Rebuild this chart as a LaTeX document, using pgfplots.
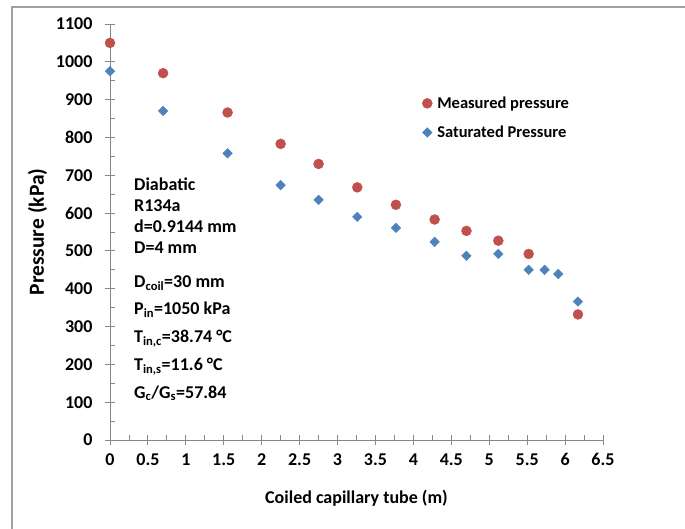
\documentclass[border=0pt]{standalone}
\usepackage{fontspec}
\setmainfont{Carlito}
\usepackage{pgfplots}
\pgfplotsset{compat=1.18}
\definecolor{redm}{HTML}{C0504D}
\definecolor{bluem}{HTML}{4F81BD}
\definecolor{axgray}{HTML}{888888}
\newcommand{\cf}{\bfseries\fontsize{18bp}{21bp}\selectfont}
\newcommand{\lf}{\bfseries\fontsize{16.5bp}{19bp}\selectfont}
\newcommand{\yf}{\bfseries\fontsize{21.5bp}{24bp}\selectfont}
\begin{document}
\begin{tikzpicture}
\useasboundingbox (0,0) rectangle (685bp,529bp);
\draw[color=axgray!80, line width=1.5bp] (12bp,0) -- (12bp,522bp) -- (685bp,522bp);
\begin{axis}[
  at={(110bp,89bp)}, anchor=south west,
  scale only axis, width=493bp, height=416bp,
  xmin=0, xmax=6.5, ymin=0, ymax=1100,
  axis x line=bottom, axis y line=left,
  axis line style={-, color=axgray, line width=0.9bp},
  xtick={0,0.5,...,6.5}, ytick={0,100,...,1100},
  xticklabels={0,0.5,1,1.5,2,2.5,3,3.5,4,4.5,5,5.5,6,6.5},
  minor x tick num=1, minor y tick num=1,
  tick align=center,
  major tick length=10bp, minor tick length=4.5bp,
  tick style={color=axgray, line width=0.9bp},
  minor x tick style={yshift=2.25bp},
  minor y tick style={xshift=2.25bp},
  /pgf/number format/assume math mode=true,
  /pgf/number format/1000 sep={},
  ticklabel style={font=\cf},
  xticklabel style={yshift=-5bp},
  yticklabel style={xshift=-9bp},
  xlabel={Coiled capillary tube (m)},
  ylabel={Pressure (kPa)},
  xlabel style={font=\cf, yshift=-17bp},
  ylabel style={font=\yf, yshift=2bp},
  legend style={at={(0.627,0.835)}, anchor=north west, draw=none, fill=none,
     font=\lf, row sep=12bp, cells={anchor=west},
     /tikz/every odd column/.append style={column sep=3bp}},
  legend image code/.code={\draw[#1] plot coordinates {(0.05cm,0cm)};},
  clip=false,
]
\addplot[only marks, mark=*, mark size=5bp, color=redm, mark options={draw=redm, fill=redm}] coordinates {
(0,1050) (0.70,970) (1.55,866) (2.25,783) (2.75,730) (3.26,668) (3.77,622) (4.28,583) (4.70,553) (5.12,527) (5.52,492) (6.17,332)
};
\addlegendentry{Measured pressure}
\addplot[only marks, mark=square*, mark size=3.4bp, color=bluem, mark options={rotate=45, draw=bluem, fill=bluem}] coordinates {
(0,975) (0.70,870) (1.55,758) (2.25,674) (2.75,635) (3.26,590) (3.77,561) (4.28,524) (4.70,487) (5.12,492) (5.52,450) (5.73,450) (5.91,439) (6.17,366)
};
\addlegendentry{Saturated Pressure}
\end{axis}
\begin{scope}[every node/.style={anchor=base west, inner sep=0pt, font=\cf}]
\node at (134bp,338bp) {Diabatic};
\node at (134bp,317.3bp) {R134a};
\node at (134bp,296.7bp) {d=0.9144 mm};
\node at (134bp,275.7bp) {D=4 mm};
\node at (134bp,241.3bp) {D\textsubscript{coil}=30 mm};
\node at (134bp,214bp) {P\textsubscript{in}=1050 kPa};
\node at (134bp,186.7bp) {T\textsubscript{in,c}=38.74 °C};
\node at (134bp,158bp) {T\textsubscript{in,s}=11.6 °C};
\node at (134bp,130.7bp) {G\textsubscript{c}/G\textsubscript{s}=57.84};
\end{scope}
\end{tikzpicture}
\end{document}
